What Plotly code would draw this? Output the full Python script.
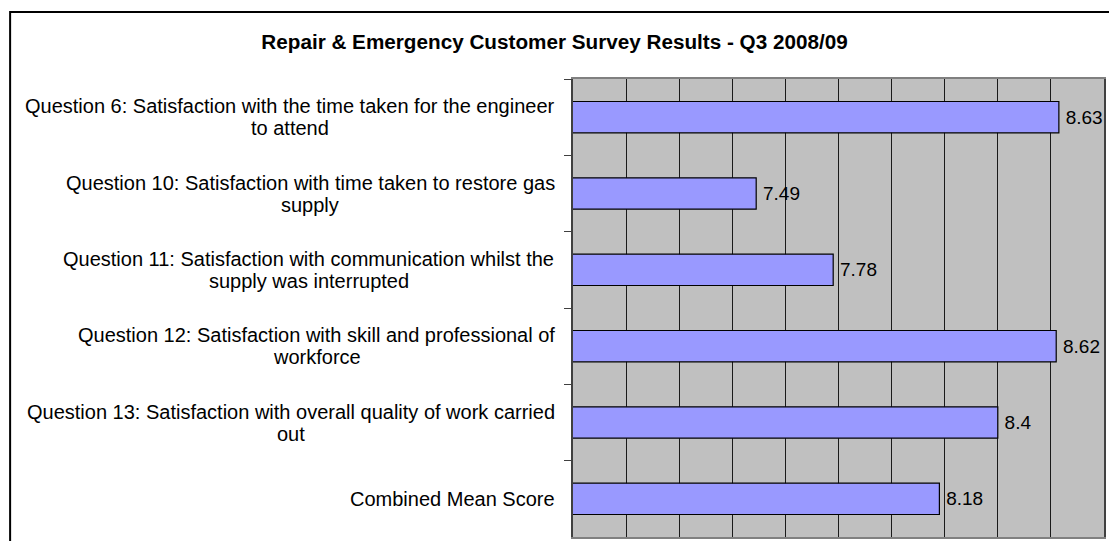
import plotly.graph_objects as go

categories = [
    "Question 6: Satisfaction with the time taken for the engineer<br>to attend",
    "Question 10: Satisfaction with time taken to restore gas<br>supply",
    "Question 11: Satisfaction with communication whilst the<br>supply was interrupted",
    "Question 12: Satisfaction with skill and professional of<br>workforce",
    "Question 13: Satisfaction with overall quality of work carried<br>out",
    "Combined Mean Score",
]
scores = [8.63, 7.49, 7.78, 8.62, 8.4, 8.18]
score_labels = ["8.63", "7.49", "7.78", "8.62", "8.4", "8.18"]
title_text = "Repair & Emergency Customer Survey Results - Q3 2008/09"

W, H = 1109, 541
ml, mr, mt, mb = 573, 3, 79, 4
pw, ph = W - ml - mr, H - mt - mb
line_gap = 22
label_size = 20
label_right = 554

# Arial / Liberation Sans advance widths (per 1000 em) for measuring label lines
ARIAL_W = {" ": 278, ":": 278, "Q": 778, "S": 667, "C": 722, "M": 833,
           "a": 556, "b": 556, "c": 500, "d": 556, "e": 556, "f": 278, "g": 556, "h": 556,
           "i": 222, "k": 500, "l": 222, "m": 833, "n": 556, "o": 556, "p": 556, "q": 556,
           "r": 333, "s": 500, "t": 278, "u": 556, "v": 500, "w": 722, "y": 500, "x": 500}


def text_width(s, size):
    return sum(ARIAL_W.get(ch, 556) for ch in s) * size / 1000.0


fig = go.Figure()
fig.add_trace(go.Bar(
    y=categories,
    x=scores,
    orientation="h",
    marker=dict(color="#9999FF", line=dict(color="#000000", width=1.2)),
    text=score_labels,
    texttemplate="\u2009%{text}",
    textposition="outside",
    textfont=dict(family="Arial", size=19, color="#000000"),
    cliponaxis=False,
    width=0.41,
))

annotations = []
for c in categories:
    lines = c.split("<br>")
    n = len(lines)
    wmax = max(text_width(ln, label_size) for ln in lines)
    cx = label_right - wmax / 2.0
    for i, ln in enumerate(lines):
        shift = ((n - 1) / 2 - i) * line_gap
        annotations.append(dict(
            x=(cx - ml) / pw, xref="paper", xanchor="center",
            y=c, yref="y", yanchor="middle", yshift=shift,
            text=ln, showarrow=False, align="center",
            font=dict(family="Arial", size=label_size, color="#000000"),
        ))

fig.update_layout(
    width=W, height=H,
    margin=dict(l=ml, r=mr, t=mt, b=mb, pad=0),
    paper_bgcolor="#FFFFFF",
    plot_bgcolor="#C0C0C0",
    showlegend=False,
    title=dict(text="<b>" + title_text + "</b>", x=0.5, xref="container", xanchor="center",
               y=1 - 42 / H, yref="container", yanchor="middle",
               font=dict(family="Arial", size=20.7, color="#000000")),
    xaxis=dict(range=[6.8, 8.8], dtick=0.2, tick0=6.8, showgrid=True, gridcolor="#1a1a1a", gridwidth=1,
               showticklabels=False, ticks="", zeroline=False,
               showline=True, linecolor="#808080", linewidth=1.5, mirror=True),
    yaxis=dict(autorange="reversed", showticklabels=False, ticks="outside", ticklen=7,
               tickcolor="#404040", tickson="boundaries", showgrid=False,
               showline=True, linecolor="#404040", linewidth=1.5, mirror=True),
    annotations=annotations,
    shapes=[dict(type="rect", xref="paper", yref="paper",
                 x0=(8 - ml) / pw, x1=1.2, y0=-0.2, y1=(H - mb - 12) / ph,
                 line=dict(color="#000000", width=2), fillcolor="rgba(0,0,0,0)", layer="above")],
)

fig.write_html("out.html",
               config={"displayModeBar": False},
               post_script="document.body.style.margin='0';document.body.style.overflow='hidden';")
